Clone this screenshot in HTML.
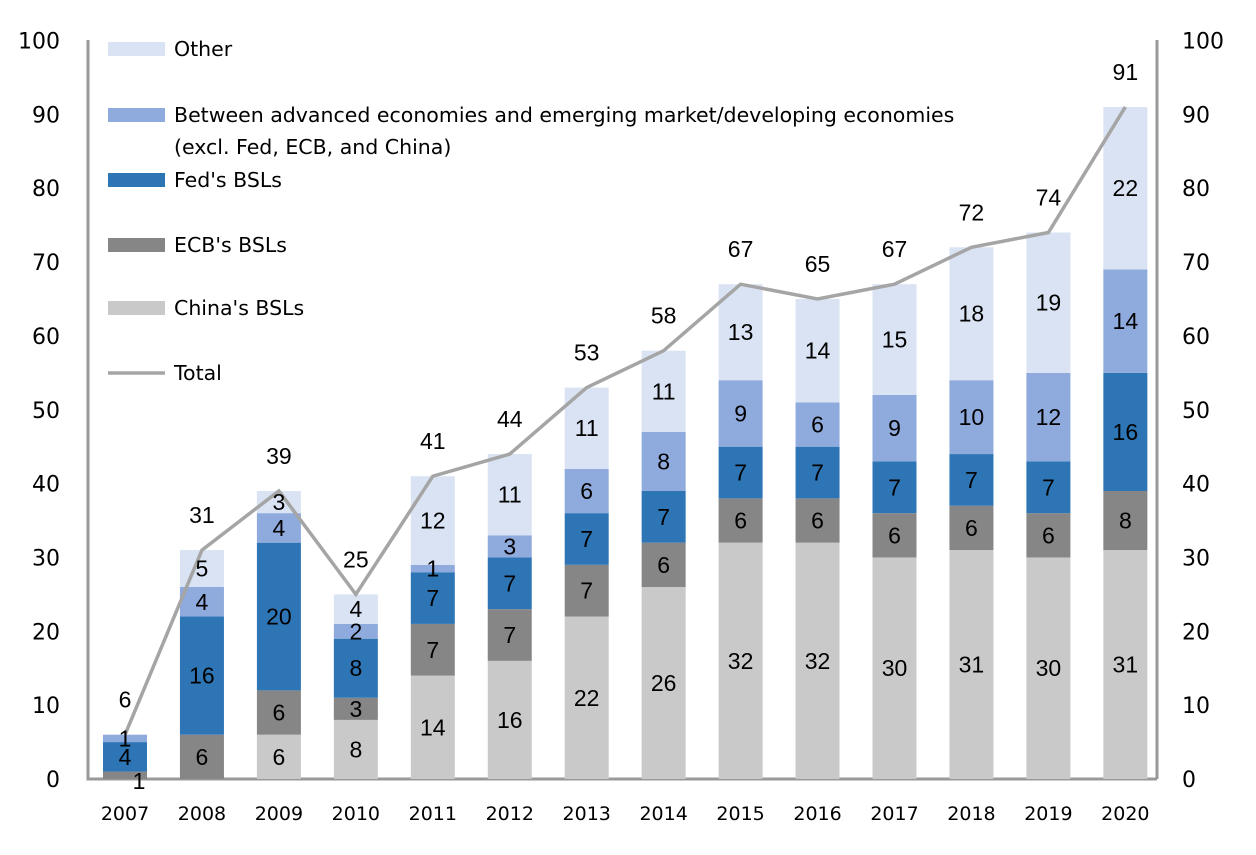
<!DOCTYPE html>
<html><head><meta charset="utf-8"><style>
body{margin:0;background:#fff}
svg{display:block;font-family:"Liberation Sans",sans-serif}
.dv{font-family:"DejaVu Sans",sans-serif}
</style></head><body>
<svg id="c" width="1256" height="855"></svg>
<script>
const years=["2007","2008","2009","2010","2011","2012","2013","2014","2015","2016","2017","2018","2019","2020"];
const china=[0,0,6,8,14,16,22,26,32,32,30,31,30,31];
const ecb=[1,6,6,3,7,7,7,6,6,6,6,6,6,8];
const fed=[4,16,20,8,7,7,7,7,7,7,7,7,7,16];
const between=[1,4,4,2,1,3,6,8,9,6,9,10,12,14];
const other=[0,5,3,4,12,11,11,11,13,14,15,18,19,22];
const totals=[6,31,39,25,41,44,53,58,67,65,67,72,74,91];
const yTicks=[0,10,20,30,40,50,60,70,80,90,100];
const series=[
 {name:"china",vals:china,color:"#c9c9c9"},
 {name:"ecb",vals:ecb,color:"#868686"},
 {name:"fed",vals:fed,color:"#2e75b6"},
 {name:"between",vals:between,color:"#8faadc"},
 {name:"other",vals:other,color:"#dae3f3"}];
const NS="http://www.w3.org/2000/svg",svg=document.getElementById('c');
const y=v=>779-v*7.385, x=i=>125+i*76.95;
function el(t,a,txt){const e=document.createElementNS(NS,t);for(const k in a)e.setAttribute(k,a[k]);if(txt!=null)e.textContent=txt;svg.appendChild(e);return e;}
let a=el('polyline',{points:"88,40 88,779 1157,779",fill:"none",stroke:"#999",'stroke-width':3});

a=el('line',{x1:1157,y1:40,x2:1157,y2:779,stroke:"#999",'stroke-width':3});

yTicks.forEach(t=>{
 let e=el('text',{x:60,y:y(t)+8,'text-anchor':'end','font-size':22,class:'dv'},t);
 
 e=el('text',{x:1182,y:y(t)+8,'text-anchor':'start','font-size':22,class:'dv'},t);
 
});
years.forEach((yr,i)=>{
 let e=el('text',{x:x(i),y:820,'text-anchor':'middle','font-size':19,class:'dv'},yr);
 
 let base=0;
 series.forEach(s=>{
  const v=s.vals[i];if(!v)return;
  const r=el('rect',{x:x(i)-22,y:y(base+v),width:44,height:y(base)-y(base+v),fill:s.color});
  
  base+=v;
 });
});
const pts=totals.map((t,i)=>x(i)+","+y(t)).join(" ");
a=el('polyline',{points:pts,fill:"none",stroke:"#a5a5a5",'stroke-width':3.5});

years.forEach((yr,i)=>{
 let base=0;
 series.forEach(s=>{
  const v=s.vals[i];if(!v)return;
  let cy=y(base+v/2)+8, cx=x(i);
  if(i===0&&s.name==='ecb'){cx+=14;cy=y(0)+10;}
  const e=el('text',{x:cx,y:cy,'text-anchor':'middle','font-size':23},v);
  
  base+=v;
 });
 const e=el('text',{x:x(i),y:y(totals[i])-27,'text-anchor':'middle','font-size':23},totals[i]);
 
});
const leg=[["Other","#dae3f3",49],["Between advanced economies and emerging market/developing economies","#8faadc",115],["Fed's BSLs","#2e75b6",180],["ECB's BSLs","#868686",245],["China's BSLs","#c9c9c9",308]];
leg.forEach(l=>{
 let r=el('rect',{x:108,y:l[2]-7,width:57,height:14,fill:l[1]});
 
 let t=el('text',{x:174,y:l[2]+7,'font-size':20.5,class:'dv'},l[0]);
 
});
let t=el('text',{x:174,y:154,'font-size':20.5,class:'dv'},"(excl. Fed, ECB, and China)");

let l=el('line',{x1:108,y1:373,x2:165,y2:373,stroke:"#a5a5a5",'stroke-width':3.5});

t=el('text',{x:174,y:380,'font-size':20.5,class:'dv'},"Total");

</script>
</body></html>
